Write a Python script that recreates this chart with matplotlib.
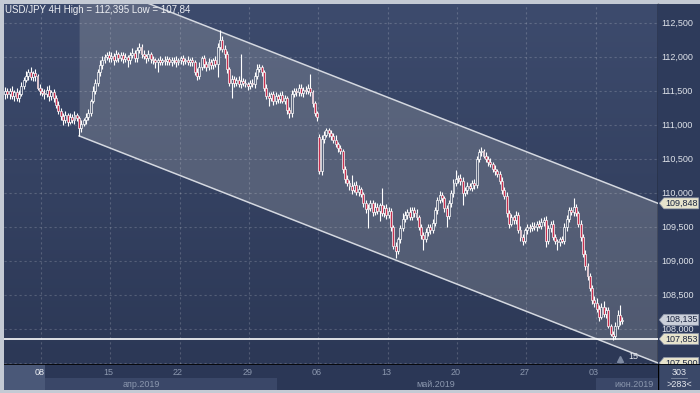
import matplotlib
matplotlib.use("Agg")
import matplotlib.pyplot as plt
from matplotlib.patches import Rectangle, Polygon
import numpy as np

plt.rcParams["font.family"] = ["Liberation Sans", "DejaVu Sans"]

# 4H closes, one list per trading week (Apr 3-5 tail first)
closes_apr03 = [111.50, 111.45, 111.50, 111.42, 111.48, 111.40, 111.46, 111.58, 111.66, 111.72,
                111.78, 111.70, 111.76, 111.72, 111.55, 111.50]
closes_apr08 = [111.47, 111.45, 111.52, 111.42, 111.48, 111.40, 111.30, 111.20, 111.14, 111.08,
                111.15, 111.05, 111.12, 111.08, 111.15, 111.10, 110.95, 111.02, 111.08, 111.12,
                111.18, 111.35, 111.50, 111.62, 111.78, 111.88, 111.95, 112.00, 112.03, 111.98]
closes_apr15 = [112.02, 111.96, 112.04, 111.99, 112.03, 111.97, 112.00, 111.95, 112.03, 112.06,
                111.98, 112.10, 112.15, 112.05, 112.02, 111.98, 112.04, 111.97, 111.95, 111.92,
                111.95, 111.93, 111.96, 111.94, 111.97, 111.93, 111.95, 111.96, 111.92, 111.95]
closes_apr22 = [111.98, 111.94, 111.96, 111.93, 111.95, 111.92, 111.78, 111.72, 111.85, 111.98,
                111.90, 111.85, 111.92, 111.88, 111.95, 111.90, 112.15, 112.25, 112.12, 112.05,
                111.82, 111.62, 111.68, 111.62, 111.66, 111.60, 111.65, 111.62, 111.60, 111.58]
closes_apr29 = [111.62, 111.60, 111.72, 111.82, 111.85, 111.78, 111.55, 111.42, 111.40, 111.45,
                111.35, 111.42, 111.38, 111.44, 111.36, 111.40, 111.22, 111.17, 111.45, 111.50,
                111.48, 111.55, 111.47, 111.52, 111.50, 111.55, 111.48, 111.32, 111.18, 111.12]
closes_may06 = [110.32, 110.80, 110.86, 110.92, 110.88, 110.84, 110.78, 110.72, 110.66, 110.62,
                110.35, 110.20, 110.15, 110.10, 110.05, 110.12, 110.02, 110.06, 109.98, 109.85,
                109.76, 109.78, 109.85, 109.72, 109.80, 109.74, 109.82, 109.70, 109.78, 109.68]
closes_may13 = [109.74, 109.50, 109.22, 109.15, 109.32, 109.48, 109.62, 109.68, 109.72, 109.65,
                109.75, 109.70, 109.64, 109.50, 109.38, 109.32, 109.42, 109.50, 109.45, 109.56,
                109.75, 109.90, 109.97, 109.92, 109.78, 109.66, 109.85, 110.00, 110.15, 110.20]
closes_may20 = [110.22, 110.18, 110.00, 110.05, 110.10, 110.08, 110.15, 110.12, 110.50, 110.60,
                110.62, 110.55, 110.50, 110.45, 110.42, 110.36, 110.32, 110.28, 110.18, 110.05,
                109.95, 109.70, 109.55, 109.65, 109.60, 109.68, 109.45, 109.35, 109.30, 109.45]
closes_may27 = [109.50, 109.48, 109.52, 109.50, 109.55, 109.52, 109.58, 109.60, 109.30, 109.48,
                109.55, 109.35, 109.30, 109.28, 109.32, 109.30, 109.50, 109.62, 109.75, 109.72,
                109.80, 109.70, 109.55, 109.35, 109.10, 108.92, 108.78, 108.60, 108.42, 108.38]
closes_jun03 = [108.30, 108.18, 108.32, 108.22, 108.28, 108.05, 107.92, 107.90, 108.05, 108.20,
                108.12, 108.135]

# wick extents beyond the body, in pips
wick_up = [6, 4, 5, 8, 4, 6, 5, 6, 4, 7, 5, 8, 4, 6, 3, 5,
           4, 6, 5, 7, 3, 5, 4, 6, 5, 4, 6, 3, 5, 4, 6, 3, 4, 5, 3, 6, 5, 4, 7, 6, 5, 8, 6, 5, 4, 6,
           5, 4, 6, 3, 5, 4, 6, 3, 5, 7, 4, 5, 6, 4, 5, 3, 6, 4, 5, 3, 4, 6, 3, 5, 4, 3, 5, 4, 6, 3,
           4, 5, 3, 6, 4, 5, 4, 6, 8, 3, 5, 4, 6, 5, 4, 6, 5, 15, 6, 5, 4, 3, 5, 4, 5, 6, 40, 4, 5, 3,
           4, 5, 6, 8, 5, 4, 3, 5, 6, 4, 5, 7, 4, 5, 6, 4, 3, 5, 6, 5, 4, 6, 5, 4, 5, 6, 20, 3, 4, 3,
           5, 6, 5, 3, 4, 5, 4, 8, 3, 4, 3, 5, 6, 4, 16, 4, 5, 6, 3, 4, 5, 6, 4, 5, 7, 5, 4, 25, 5, 6,
           5, 4, 3, 6, 4, 5, 8, 6, 4, 7, 5, 4, 6, 3, 4, 5, 6, 4, 5, 6, 5, 4, 6, 5, 3, 4, 5, 4, 6, 14,
           4, 6, 5, 4, 6, 5, 4, 6, 5, 4, 5, 3, 5, 4, 6, 4, 5, 3, 4, 5, 4, 6, 5, 4, 3, 5, 4, 6, 5, 4,
           5, 4, 6, 5, 4, 6, 5, 4, 6, 5, 4, 6, 5, 3, 4, 5, 6, 5, 4, 5, 13, 4, 3, 5, 4, 6, 5, 4, 5, 6,
           8, 5, 6, 9, 5, 4, 3, 5, 6, 8, 15, 4]
wick_dn = [8, 5, 6, 4, 7, 5, 6, 4, 5, 3, 6, 4, 5, 7, 4, 6,
           5, 6, 4, 7, 5, 6, 5, 4, 6, 8, 5, 6, 4, 5, 6, 4, 11, 5, 4, 6, 5, 4, 3, 5, 4, 6, 5, 4, 5, 6,
           5, 8, 4, 6, 5, 6, 4, 10, 5, 4, 6, 5, 4, 6, 5, 7, 4, 6, 5, 8, 14, 5, 4, 6, 5, 4, 6, 5, 7, 4,
           5, 6, 4, 5, 6, 5, 4, 6, 5, 4, 6, 5, 4, 6, 5, 4, 20, 5, 4, 6, 5, 4, 22, 6, 5, 4, 6, 5, 4, 6,
           5, 4, 6, 5, 4, 6, 5, 4, 12, 5, 6, 4, 5, 6, 4, 5, 6, 7, 5, 4, 6, 5, 4, 6, 5, 4, 6, 5, 4, 6,
           4, 5, 6, 4, 5, 6, 4, 5, 6, 4, 5, 6, 4, 5, 6, 4, 5, 6, 4, 5, 6, 28, 5, 6, 4, 5, 15, 4, 5, 6,
           5, 6, 4, 10, 5, 6, 4, 5, 6, 4, 5, 6, 4, 5, 6, 16, 4, 5, 6, 4, 5, 6, 4, 5, 6, 16, 4, 5, 6, 4,
           5, 6, 18, 5, 6, 4, 5, 6, 4, 5, 6, 4, 5, 6, 4, 5, 6, 4, 5, 6, 4, 5, 6, 4, 5, 6, 4, 5, 6, 4,
           5, 6, 4, 5, 6, 4, 5, 6, 10, 5, 6, 4, 5, 12, 6, 4, 5, 6, 4, 5, 6, 4, 5, 6, 4, 5, 6, 4, 5, 6,
           5, 6, 4, 5, 6, 4, 3, 6, 4, 5, 6, 4]
first_open = 111.46
gap_opens = {136: 110.82}

week_slots = [16, 46, 76, 106, 136, 166, 196, 226, 256]
week_labels = ["08", "15", "22", "29", "06", "13", "20", "27", "03"]
month_labels = ["апр.2019", "май.2019", "июн.2019"]
month_label_slots = [58.8, 186.4, 272.0]
month_bounds = [17.2, 117.5, 255.5]

price_ticks = [107.5, 108.0, 108.5, 109.0, 109.5, 110.0, 110.5, 111.0, 111.5, 112.0, 112.5]
n_slots = 283
ymin, ymax = 107.485, 112.78

chan_start = 32
chan_low_start = 110.84
chan_low_end = 107.500
chan_up_end = 109.848
hline_price = 107.853
last_price = 108.135
shift_bars = 15

closes = (closes_apr03 + closes_apr08 + closes_apr15 + closes_apr22 + closes_apr29
          + closes_may06 + closes_may13 + closes_may20 + closes_may27 + closes_jun03)


def fmt(p):
    return f"{p:.3f}".replace(".", ",")


W, H = 700, 393
fig = plt.figure(figsize=(7.0, 3.93), dpi=100, facecolor="#c4cad4")

def px_axes(x0, y0, x1, y1):
    return fig.add_axes([x0 / W, 1 - y1 / H, (x1 - x0) / W, (y1 - y0) / H])

ax = px_axes(4, 4, 658, 364)
xl = (-0.5, n_slots - 0.5)
ax.set_xlim(*xl)
ax.set_ylim(ymin, ymax)

# background gradient
grad = np.linspace(0, 1, 256)[:, None]
top_c = np.array([0x3d, 0x4b, 0x6d]) / 255
bot_c = np.array([0x2c, 0x38, 0x56]) / 255
img = top_c[None, None, :] * (1 - grad[:, :, None]) + bot_c[None, None, :] * grad[:, :, None]
ax.imshow(img, extent=(xl[0], xl[1], ymin, ymax), aspect="auto", zorder=0, origin="upper")

# channel
slope = (chan_low_end - chan_low_start) / (xl[1] - chan_start)
cx = np.array([chan_start, xl[1]])
low_line = chan_low_start + slope * (cx - chan_start)
up_line = chan_up_end + slope * (cx - xl[1])
ax.fill_between(cx, low_line, up_line, color="#bcbdbd", alpha=0.25, lw=0, zorder=1)
ax.plot(cx, low_line, color="#d4d8e0", lw=1.1, zorder=4)
ax.plot(cx, up_line, color="#d4d8e0", lw=1.1, zorder=4)

# grid
for p in price_ticks:
    ax.axhline(p, color="white", alpha=0.18, lw=0.8, ls=(0, (2, 2.5)), zorder=2)
for s in week_slots:
    ax.axvline(s - 0.5, color="white", alpha=0.18, lw=0.8, ls=(0, (2, 2.5)), zorder=2)

# candles
prev = first_open
for i, c in enumerate(closes):
    o = gap_opens.get(i, prev)
    hi = max(o, c) + wick_up[i] / 100
    lo = min(o, c) - wick_dn[i] / 100
    top, bot = max(o, c), min(o, c)
    ax.vlines(i, top, hi, color="white", lw=0.8, zorder=5)
    ax.vlines(i, lo, bot, color="white", lw=0.8, zorder=5)
    face = "#c8304f" if c < o else "none"
    ax.add_patch(Rectangle((i - 0.42, bot), 0.84, max(top - bot, 0.01),
                           facecolor=face, edgecolor="white", lw=0.5, zorder=6))
    prev = c

ax.axhline(hline_price, color="white", lw=1.2, zorder=7)

# shift marker
ax.plot(len(closes) - 2.0, ymin + 0.075, marker="^", ms=4, color="#7e8aa2", zorder=8)
ax.text(len(closes) + shift_bars / 2 - 3.5, ymin + 0.105, str(shift_bars), color="#e6e9ef",
        fontsize=6.5, ha="center", va="center", zorder=8)

ax.set_xticks([])
ax.set_yticks([])
for side in ["top", "left", "bottom"]:
    ax.spines[side].set_visible(False)
ax.spines["right"].set_color("black")
ax.spines["right"].set_linewidth(1.0)

fig.text(5 / W, 1 - 10 / H, "USD/JPY 4H High = 112,395 Low = 107,84", color="#eef0f4",
         fontsize=7, ha="left", va="center")

# right price panel
axr = px_axes(658, 4, 700, 364)
axr.set_facecolor("#2e3b5b")
axr.set_xlim(0, 1)
axr.set_ylim(ymin, ymax)
axr.set_xticks([])
axr.set_yticks([])
for sp in axr.spines.values():
    sp.set_visible(False)

tag_h = 11 / 68 / 2
tags = [(chan_up_end, "#e6e3cc"), (last_price, "#cbd0da"), (hline_price, "#e6e3cc"),
        (chan_low_end, "#e6e3cc")]
tag_prices = [p for p, _ in tags]
for p in price_ticks:
    # a tag with the same price covers the tick label
    if p in tag_prices:
        continue
    axr.text(0.08, p, fmt(p), color="#dfe3ea", fontsize=6.5, ha="left", va="center")

for p, col in tags:
    poly = [(0.03, p), (0.14, p + tag_h), (0.97, p + tag_h), (0.97, p - tag_h), (0.14, p - tag_h)]
    axr.add_patch(Polygon(poly, closed=True, facecolor=col, edgecolor="#8e96a8", lw=0.5, zorder=5))
    axr.text(0.56, p, fmt(p), color="#1b2540", fontsize=6.5, ha="center", va="center", zorder=6)

# date band
axd = px_axes(4, 364, 658, 390)
axd.set_xlim(*xl)
axd.set_ylim(0, 1)
axd.set_facecolor("#2b3756")
axd.add_patch(Rectangle((month_bounds[0], 0), month_bounds[1] - month_bounds[0], 0.46,
                        facecolor="#3a4768", lw=0))
axd.add_patch(Rectangle((month_bounds[2], 0), xl[1] - month_bounds[2], 0.46,
                        facecolor="#3a4768", lw=0))
axd.add_patch(Rectangle((xl[0], 0), month_bounds[0] - xl[0], 1, facecolor="#4a5878", lw=0))
for s, lab in zip(week_slots, week_labels):
    col = "#eef0f4" if s == week_slots[0] else "#8b97ae"
    axd.text(s - 1.2, 0.66, lab, color=col, fontsize=6.5, ha="center", va="center")
for s, lab in zip(month_label_slots, month_labels):
    axd.text(s, 0.22, lab, color="#8b97ae", fontsize=6.5, ha="center", va="center")
axd.set_xticks([])
axd.set_yticks([])
for sp in axd.spines.values():
    sp.set_visible(False)
axd.axhline(1, color="black", lw=1.2)

# corner box
axc = px_axes(658, 364, 700, 390)
axc.set_facecolor("#3a4868")
axc.set_xlim(0, 1)
axc.set_ylim(0, 1)
axc.set_xticks([])
axc.set_yticks([])
for sp in axc.spines.values():
    sp.set_visible(False)
axc.axhline(1, color="black", lw=1.2)
axc.axvline(0, color="black", lw=1.0)
axc.plot([0.3, 0.7], [0.45, 0.45], color="#7d89a0", lw=0.6)
axc.text(0.5, 0.68, "303", color="#e6e9ef", fontsize=6.5, ha="center", va="center")
axc.text(0.5, 0.22, ">283<", color="#e6e9ef", fontsize=6.5, ha="center", va="center")

fig.savefig("out.png", dpi=100, facecolor=fig.get_facecolor())
